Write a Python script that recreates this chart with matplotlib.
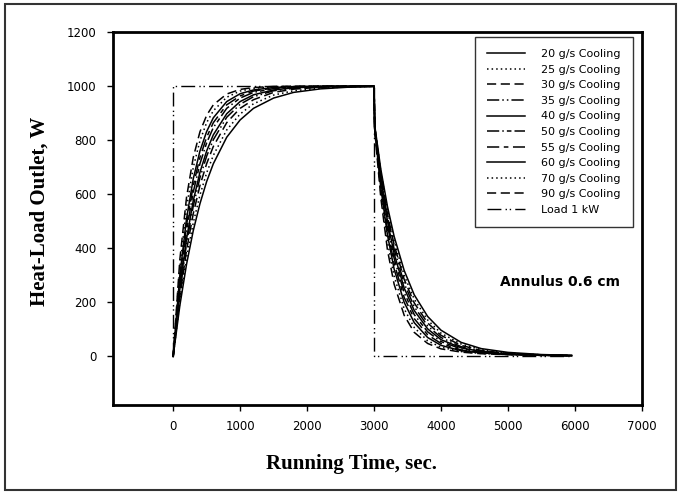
import matplotlib.pyplot as plt
from matplotlib.patches import Rectangle


# time grids (s)
RISE_TIME = [0, 100, 200, 300, 400, 500, 600, 800, 1000, 1200, 1500, 1800, 2200, 2600, 3000]
DECAY_TIME = [3010, 3100, 3200, 3300, 3450, 3600, 3800, 4000, 4300, 4600, 5000, 5500, 5950]

FLOWS = [20, 25, 30, 35, 40, 50, 55, 60, 70, 90]

RISE = [
    [0, 188, 341, 465, 565, 647, 713, 811, 875, 918, 956, 977, 990, 996, 998],
    [0, 203, 365, 494, 597, 679, 744, 838, 897, 935, 967, 983, 993, 997, 999],
    [0, 221, 393, 528, 632, 713, 777, 865, 918, 950, 977, 989, 996, 998, 1000],
    [0, 237, 418, 556, 661, 741, 802, 885, 933, 961, 983, 992, 997, 999, 1000],
    [0, 249, 435, 576, 681, 760, 820, 898, 943, 968, 986, 994, 998, 999, 1000],
    [0, 268, 465, 608, 713, 790, 847, 918, 956, 977, 991, 996, 999, 1000, 1000],
    [0, 283, 487, 632, 736, 811, 865, 931, 964, 982, 993, 998, 999, 1000, 1000],
    [0, 300, 510, 657, 760, 832, 883, 943, 972, 986, 995, 998, 1000, 1000, 1000],
    [0, 330, 551, 699, 798, 865, 909, 959, 982, 992, 998, 999, 1000, 1000, 1000],
    [0, 359, 589, 736, 831, 892, 931, 971, 988, 995, 999, 1000, 1000, 1000, 1000],
]

DECAY = [
    [855, 694, 555, 444, 318, 228, 148, 97, 52, 29, 15, 7, 4],
    [852, 686, 541, 427, 300, 212, 135, 86, 46, 25, 12, 6, 3],
    [850, 678, 528, 413, 285, 198, 124, 78, 41, 22, 11, 6, 3],
    [848, 670, 515, 397, 270, 184, 113, 70, 36, 20, 10, 5, 3],
    [846, 661, 501, 380, 253, 170, 102, 62, 32, 18, 9, 5, 3],
    [844, 651, 485, 363, 236, 155, 91, 55, 28, 16, 8, 5, 3],
    [842, 640, 468, 344, 218, 140, 80, 48, 24, 14, 8, 4, 3],
    [840, 627, 450, 323, 200, 125, 70, 41, 21, 13, 7, 4, 3],
    [838, 610, 424, 297, 176, 107, 58, 34, 18, 11, 7, 4, 3],
    [835, 589, 394, 267, 152, 89, 48, 28, 16, 10, 7, 4, 3],
]

LOAD_TIME = [0, 0, 3000, 3000, 5950]
LOAD_VALUE = [0, 1000, 1000, 0, 0]

X_TICKS = [0, 1000, 2000, 3000, 4000, 5000, 6000, 7000]
Y_TICKS = [0, 200, 400, 600, 800, 1000, 1200]

STYLES = {
    20: "-",
    25: (0, (1, 2)),
    30: (0, (6, 3)),
    35: (0, (8, 2, 1, 2, 1, 2)),
    40: "-",
    50: (0, (8, 2, 1, 2, 3, 2)),
    55: (0, (8, 3, 3, 3)),
    60: "-",
    70: (0, (1, 2)),
    90: (0, (6, 3)),
}
LOAD_STYLE = (0, (10, 3, 1, 2, 1, 3))


def main():
    plt.rcParams["font.family"] = ["DejaVu Sans"]

    fig = plt.figure(figsize=(6.8, 4.94), dpi=100)
    ax = fig.add_axes([0.166, 0.180, 0.778, 0.755])

    for flow, rise, decay in zip(FLOWS, RISE, DECAY):
        ax.plot(RISE_TIME + DECAY_TIME, rise + decay, color="black",
                linewidth=1.1, linestyle=STYLES[flow], label=f"{flow} g/s Cooling")

    ax.plot(LOAD_TIME, LOAD_VALUE, color="black", linewidth=1.0,
            linestyle=LOAD_STYLE, label="Load 1 kW")

    ax.set_xlim(-900, 7000)
    ax.set_ylim(-180, 1200)
    ax.set_xticks(X_TICKS)
    ax.set_yticks(Y_TICKS)
    ax.tick_params(direction="out", length=4, width=1, labelsize=8.5)
    ax.tick_params(axis="x", pad=6.5)
    ax.tick_params(axis="y", pad=8)

    for spine in ax.spines.values():
        spine.set_linewidth(2.0)

    ax.set_xlabel("Running Time, sec.", family="Liberation Serif",
                  fontweight="bold", fontsize=15)
    ax.xaxis.set_label_coords(0.45, -0.13)
    ax.set_ylabel("Heat-Load Outlet, W", family="Liberation Serif",
                  fontweight="bold", fontsize=15)
    ax.yaxis.set_label_coords(-0.12, 0.52)

    ax.text(5780, 275, "Annulus 0.6 cm", ha="center", va="center",
            fontsize=10, fontweight="bold")

    legend = ax.legend(loc="upper right", bbox_to_anchor=(0.983, 0.987),
                       fontsize=8, frameon=True, fancybox=False,
                       handlelength=3.4, handletextpad=1.5,
                       labelspacing=0.5, borderpad=1.1, borderaxespad=0)
    legend.get_frame().set_edgecolor("black")
    legend.get_frame().set_linewidth(1.0)

    fig.patches.append(Rectangle((0.008, 0.008), 0.986, 0.984,
                                 transform=fig.transFigure, fill=False,
                                 edgecolor="#333333", linewidth=1.5))

    fig.savefig("out.png", dpi=100)
    plt.close(fig)


if __name__ == "__main__":
    main()
